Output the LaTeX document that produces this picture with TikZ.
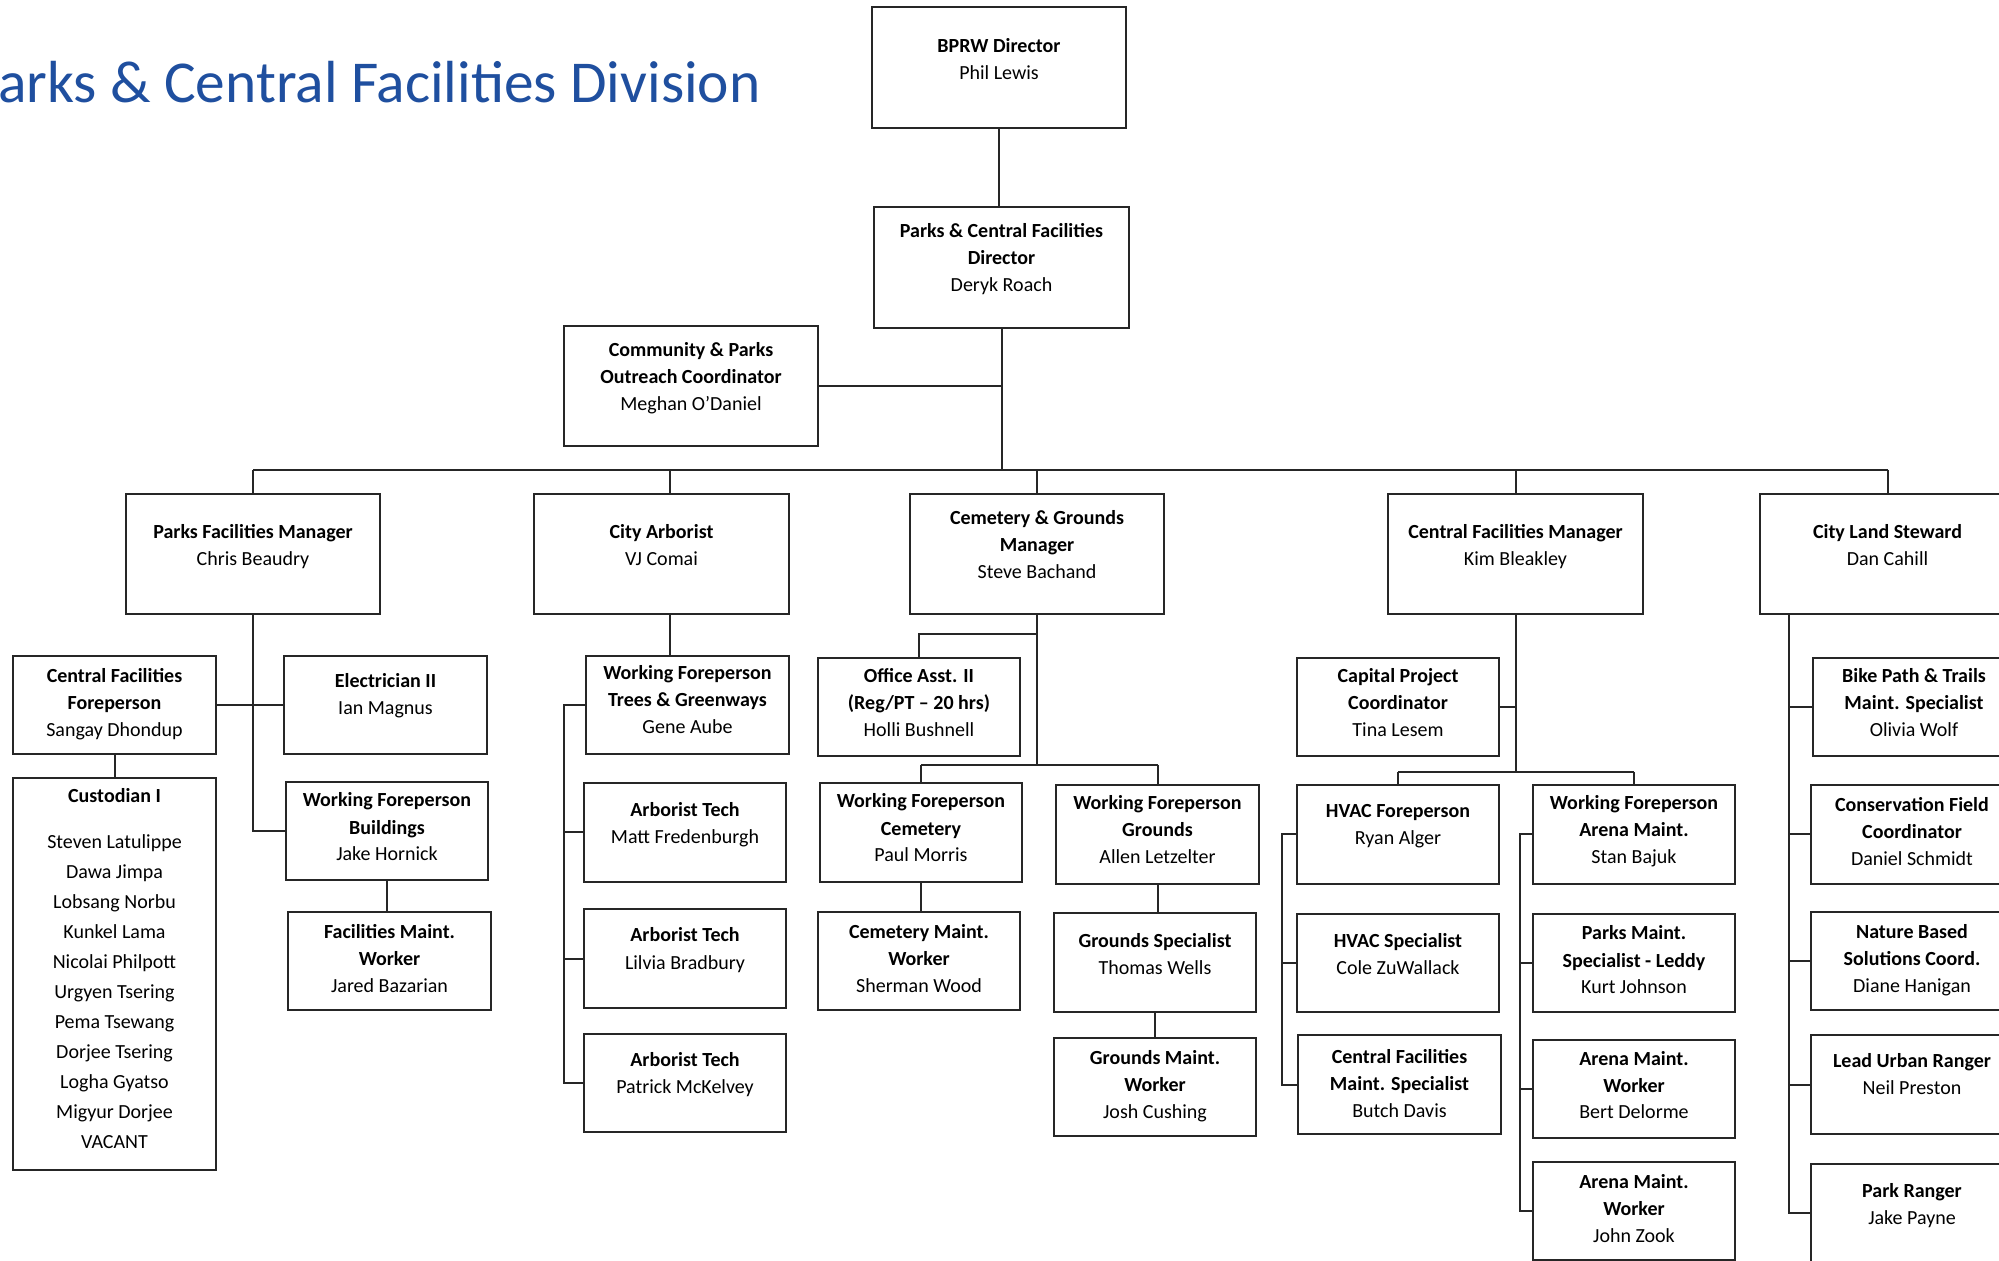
\documentclass[tikz,border=0pt]{standalone}
\usepackage{fontspec}
\setmainfont{Carlito}
\newlength{\pxu}\setlength{\pxu}{0.5pt}
% box content: width, height, first-baseline offset (all in px), lines
\newcommand{\bx}[4]{\parbox[c][#2\pxu][t]{#1\pxu}{\fontsize{10}{13.5}\selectfont\centering\vspace*{\dimexpr#3\pxu-9.45pt\relax}\strut#4\par}}
\definecolor{titleblue}{HTML}{1F4F9F}
\definecolor{boxline}{HTML}{262626}
\begin{document}
\begin{tikzpicture}[x=0.5pt,y=-0.5pt,
  box/.style={draw=boxline, line width=1.1pt, inner sep=0pt, outer sep=0pt, anchor=north west},
  conn/.style={draw=boxline, line width=1pt},
  titletext/.style={text=titleblue, font=\fontsize{29.7}{35}\selectfont, inner sep=0pt, anchor=base east}]
\path[use as bounding box, fill=white] (0,0) rectangle (1999,1261);

\node[titletext] (title) at (761,103) {Parks \& Central Facilities Division};

% top
\node[box] (bprw) at (872,7) {\bx{254}{121}{46}{\textbf{BPRW Director}\\Phil Lewis}};
\node[box] (pcfd) at (874,207) {\bx{255}{121}{31}{\textbf{Parks \& Central Facilities}\\\textbf{Director}\\Deryk Roach}};
\node[box] (cpoc) at (564,326) {\bx{254}{120}{31}{\textbf{Community \& Parks}\\\textbf{Outreach Coordinator}\\Meghan O’Daniel}};

% row 1
\node[box] (pfm) at (126,494) {\bx{254}{120}{45}{\textbf{Parks Facilities Manager}\\Chris Beaudry}};
\node[box] (ca) at (534,494) {\bx{255}{120}{45}{\textbf{City Arborist}\\VJ Comai}};
\node[box] (cgm) at (910,494) {\bx{254}{120}{31}{\textbf{Cemetery \& Grounds}\\\textbf{Manager}\\Steve Bachand}};
\node[box] (cfm) at (1388,494) {\bx{255}{120}{45}{\textbf{Central Facilities Manager}\\Kim Bleakley}};
\node[box] (cls) at (1760,494) {\bx{255}{120}{45}{\textbf{City Land Steward}\\Dan Cahill}};

% parks facilities column
\node[box] (cff) at (13,656) {\bx{203}{98}{27}{\textbf{Central Facilities}\\\textbf{Foreperson}\\Sangay Dhondup}};
\node[box] (elec) at (284,656) {\bx{203}{98}{32}{\textbf{Electrician II}\\Ian Magnus}};
\node[box] (cust) at (13,778) {\parbox[c][392\pxu][t]{203\pxu}{\fontsize{10}{15}\selectfont\centering\vspace*{1.5pt}\strut\textbf{Custodian I}\\[8pt]Steven Latulippe\\Dawa Jimpa\\Lobsang Norbu\\Kunkel Lama\\Nicolai Philpott\\Urgyen Tsering\\Pema Tsewang\\Dorjee Tsering\\Logha Gyatso\\Migyur Dorjee\\VACANT\par}};
\node[box] (wfb) at (286,782) {\bx{202}{98}{25}{\textbf{Working Foreperson}\\\textbf{Buildings}\\Jake Hornick}};
\node[box] (fmw) at (288,912) {\bx{203}{98}{26}{\textbf{Facilities Maint.}\\\textbf{Worker}\\Jared Bazarian}};

% arborist column
\node[box] (wft) at (586,656) {\bx{203}{98}{24}{\textbf{Working Foreperson}\\\textbf{Trees \& Greenways}\\Gene Aube}};
\node[box] (at1) at (584,783) {\bx{202}{99}{34}{\textbf{Arborist Tech}\\Matt Fredenburgh}};
\node[box] (at2) at (584,909) {\bx{202}{99}{33}{\textbf{Arborist Tech}\\Lilvia Bradbury}};
\node[box] (at3) at (584,1034) {\bx{202}{98}{32}{\textbf{Arborist Tech}\\Patrick McKelvey}};

% cemetery column
\node[box] (oa) at (818,658) {\bx{202}{98}{25}{\textbf{Office Asst. II}\\\textbf{(Reg/PT – 20 hrs)}\\Holli Bushnell}};
\node[box] (wfc) at (820,783) {\bx{202}{99}{25}{\textbf{Working Foreperson}\\\textbf{Cemetery}\\Paul Morris}};
\node[box] (wfg) at (1056,785) {\bx{203}{99}{25}{\textbf{Working Foreperson}\\\textbf{Grounds}\\Allen Letzelter}};
\node[box] (cmw) at (818,912) {\bx{202}{98}{26}{\textbf{Cemetery Maint.}\\\textbf{Worker}\\Sherman Wood}};
\node[box] (gs) at (1054,913) {\bx{202}{99}{34}{\textbf{Grounds Specialist}\\Thomas Wells}};
\node[box] (gmw) at (1054,1038) {\bx{202}{98}{26}{\textbf{Grounds Maint.}\\\textbf{Worker}\\Josh Cushing}};

% central facilities column
\node[box] (cpc) at (1297,658) {\bx{202}{98}{25}{\textbf{Capital Project}\\\textbf{Coordinator}\\Tina Lesem}};
\node[box] (hvf) at (1297,785) {\bx{202}{99}{33}{\textbf{HVAC Foreperson}\\Ryan Alger}};
\node[box] (wfa) at (1533,785) {\bx{202}{99}{25}{\textbf{Working Foreperson}\\\textbf{Arena Maint.}\\Stan Bajuk}};
\node[box] (hvs) at (1297,914) {\bx{202}{98}{33}{\textbf{HVAC Specialist}\\Cole ZuWallack}};
\node[box] (cfms) at (1298,1035) {\bx{203}{99}{28}{\textbf{Central Facilities}\\\textbf{Maint. Specialist}\\Butch Davis}};
\node[box] (pms) at (1533,914) {\bx{202}{98}{26}{\textbf{Parks Maint.}\\\textbf{Specialist - Leddy}\\Kurt Johnson}};
\node[box] (amw1) at (1533,1040) {\bx{202}{98}{25}{\textbf{Arena Maint.}\\\textbf{Worker}\\Bert Delorme}};
\node[box] (amw2) at (1533,1162) {\bx{202}{98}{26}{\textbf{Arena Maint.}\\\textbf{Worker}\\John Zook}};

% city land steward column
\node[box] (bike) at (1813,658) {\bx{202}{98}{25}{\textbf{Bike Path \& Trails}\\\textbf{Maint. Specialist}\\Olivia Wolf}};
\node[box] (cons) at (1811,785) {\bx{202}{99}{27}{\textbf{Conservation Field}\\\textbf{Coordinator}\\Daniel Schmidt}};
\node[box] (nbs) at (1811,912) {\bx{202}{98}{26}{\textbf{Nature Based}\\\textbf{Solutions Coord.}\\Diane Hanigan}};
\node[box] (lur) at (1811,1035) {\bx{202}{99}{32}{\textbf{Lead Urban Ranger}\\Neil Preston}};
\node[box] (pr) at (1811,1164) {\bx{202}{98}{33}{\textbf{Park Ranger}\\Jake Payne}};

% ---- connectors ----
\coordinate (bar) at (0,470);
\draw[conn] (bprw.south) -- (bprw.south |- pcfd.north);
\draw[conn] (pcfd.south) -- (pcfd.south |- bar);
\draw[conn] (cpoc.east) -- (cpoc.east -| pcfd.south);
\draw[conn] (pfm.north |- bar) -- (cls.north |- bar);
\draw[conn] (pfm.north |- bar) -- (pfm.north);
\coordinate (caX) at (670,0);
\draw[conn] (caX |- bar) -- (caX |- ca.north);
\draw[conn] (cgm.north |- bar) -- (cgm.north);
\draw[conn] (cfm.north |- bar) -- (cfm.north);
\draw[conn] (cls.north |- bar) -- (cls.north);

% parks facilities
\draw[conn] (pfm.south) |- (wfb.west);
\draw[conn] (cff.east) -- (elec.west);
\draw[conn] (cff.south) -- (cff.south |- cust.north);
\draw[conn] (wfb.south) -- (wfb.south |- fmw.north);

% arborist
\draw[conn] (caX |- ca.south) -- (caX |- wft.north);
\coordinate (brA) at (564,0);
\draw[conn] (wft.west) -- (wft.west -| brA) -- (at3.west -| brA) -- (at3.west);
\draw[conn] (at1.west -| brA) -- (at1.west);
\draw[conn] (at2.west -| brA) -- (at2.west);

% cemetery
\coordinate (cgA) at (0,634);
\coordinate (cgB) at (0,765);
\draw[conn] (cgm.south) -- (cgm.south |- cgB);
\draw[conn] (cgm.south |- cgA) -| (oa.north);
\draw[conn] (wfc.north |- cgB) -- (wfg.north |- cgB);
\draw[conn] (wfc.north |- cgB) -- (wfc.north);
\draw[conn] (wfg.north |- cgB) -- (wfg.north);
\draw[conn] (wfc.south) -- (wfc.south |- cmw.north);
\draw[conn] (wfg.south) -- (wfg.south |- gs.north);
\draw[conn] (gs.south) -- (gs.south |- gmw.north);

% central facilities
\coordinate (cfB) at (0,772);
\draw[conn] (cfm.south) -- (cfm.south |- cfB);
\draw[conn] (cpc.east) -- (cpc.east -| cfm.south);
\draw[conn] (hvf.north |- cfB) -- (wfa.north |- cfB);
\draw[conn] (hvf.north |- cfB) -- (hvf.north);
\draw[conn] (wfa.north |- cfB) -- (wfa.north);
\coordinate (brH) at (1282,0);
\draw[conn] (hvf.west) -- (hvf.west -| brH) -- (cfms.west -| brH) -- (cfms.west);
\draw[conn] (hvs.west -| brH) -- (hvs.west);
\coordinate (brR) at (1520,0);
\draw[conn] (wfa.west) -- (wfa.west -| brR) -- (amw2.west -| brR) -- (amw2.west);
\draw[conn] (pms.west -| brR) -- (pms.west);
\draw[conn] (amw1.west -| brR) -- (amw1.west);

% city land steward
\coordinate (brL) at (1789,0);
\draw[conn] (brL |- cls.south) -- (pr.west -| brL) -- (pr.west);
\draw[conn] (bike.west -| brL) -- (bike.west);
\draw[conn] (cons.west -| brL) -- (cons.west);
\draw[conn] (nbs.west -| brL) -- (nbs.west);
\draw[conn] (lur.west -| brL) -- (lur.west);
\end{tikzpicture}
\end{document}
